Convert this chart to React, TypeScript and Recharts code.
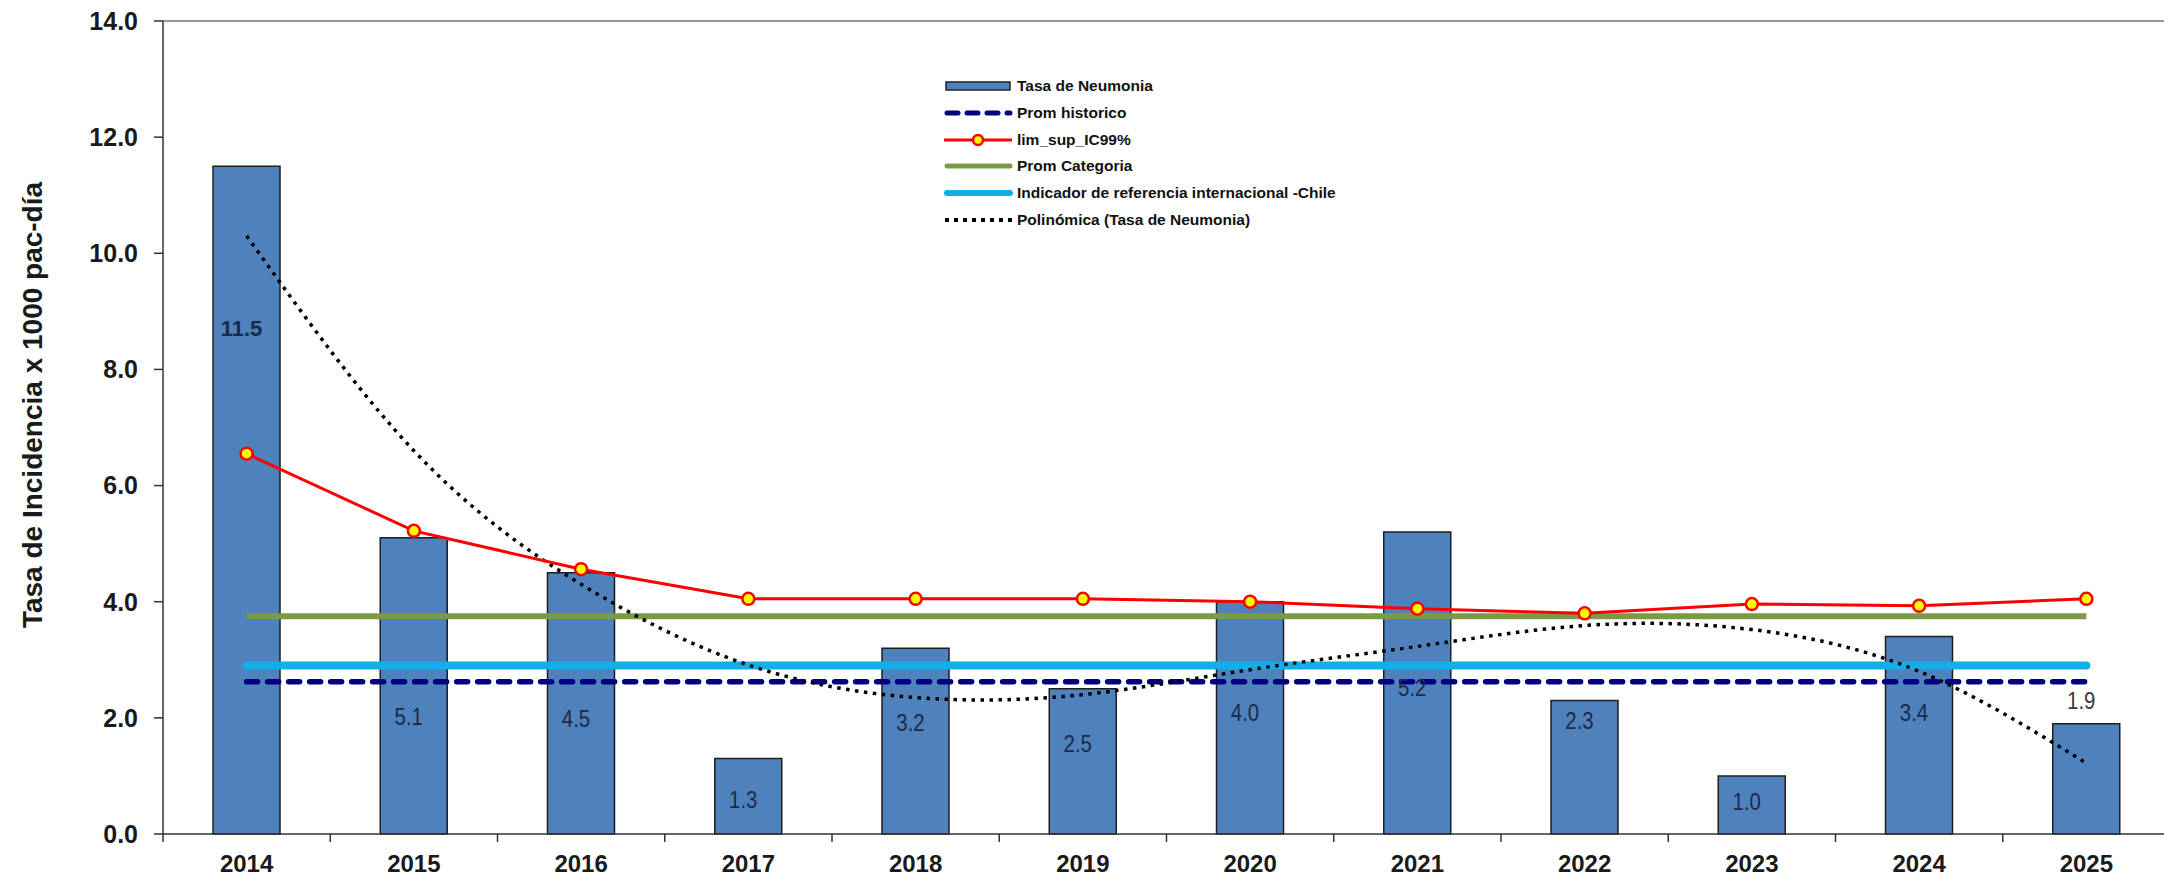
import React from "react";
import {
    Bar,
    ComposedChart,
    LabelList,
    Legend,
    Line,
    ReferenceLine,
    XAxis,
    YAxis,
} from "recharts";

// values
const years = ["2014", "2015", "2016", "2017", "2018", "2019", "2020", "2021", "2022", "2023", "2024", "2025"];
const tasaNeumonia = [11.5, 5.1, 4.5, 1.3, 3.2, 2.5, 4.0, 5.2, 2.3, 1.0, 3.4, 1.9];
const promHistorico = [2.62, 2.62, 2.62, 2.62, 2.62, 2.62, 2.62, 2.62, 2.62, 2.62, 2.62, 2.62];
const limSupIC99 = [6.55, 5.22, 4.56, 4.05, 4.05, 4.05, 4.0, 3.88, 3.8, 3.96, 3.93, 4.05];
const promCategoria = [3.75, 3.75, 3.75, 3.75, 3.75, 3.75, 3.75, 3.75, 3.75, 3.75, 3.75, 3.75];
const indicadorChile = [2.9, 2.9, 2.9, 2.9, 2.9, 2.9, 2.9, 2.9, 2.9, 2.9, 2.9, 2.9];
const polinomica = [10.3, 6.6, 4.3, 2.91, 2.35, 2.4, 2.83, 3.23, 3.59, 3.52, 2.8, 1.22];
// value (in axis units) at which each bar's data label sits in the reference
const labelAt = [8.7, 2.02, 1.99, 0.58, 1.92, 1.55, 2.08, 2.51, 1.95, 0.56, 2.09, 2.3];
const yTicks = [0, 2, 4, 6, 8, 10, 12, 14];

const data = years.map((year, i) => ({
    year,
    tasa: tasaNeumonia[i],
    prom: promHistorico[i],
    lim: limSupIC99[i],
    cat: promCategoria[i],
    ind: indicadorChile[i],
    poli: polinomica[i],
}));

const W = 2172;
const H = 877;
const MARGIN = { top: 21, right: 2, bottom: 0, left: 0 };
const Y_W = 163;
const X_H = 43;
const BAND = (W - MARGIN.left - MARGIN.right - Y_W) / years.length;
const AXIS_Y = H - MARGIN.bottom - X_H;

const BAR_BLUE = "#4F81BD";
const NAVY = "#000080";
const RED = "#FF0000";
const GREEN = "#7C9A46";
const SKY = "#12AEEA";
const AXIS = "#333333";
const ARIAL = "'Liberation Sans', Arial, sans-serif";

const XTick = ({ x, payload, index }: any) => {
    const left = x - BAND / 2;
    return (
        <g>
            <line x1={left} x2={left} y1={AXIS_Y} y2={AXIS_Y + 8} stroke={AXIS} strokeWidth={1.5} />
            {index === years.length - 1 && (
                <line x1={left + BAND} x2={left + BAND} y1={AXIS_Y} y2={AXIS_Y + 8} stroke={AXIS} strokeWidth={1.5} />
            )}
            <text x={x} y={AXIS_Y + 38} textAnchor="middle" fontFamily={ARIAL} fontWeight="bold" fontSize={24} fill="#1a1a1a">
                {payload.value}
            </text>
        </g>
    );
};

const BarLabel = ({ x, y, width, height, value, index }: any) => {
    const bottom = y + height;
    const ly = bottom - (labelAt[index] * height) / value;
    const cx = x + width / 2 - 5;
    const first = index === 0;
    return (
        <text
            transform={`translate(${cx}, ${ly}) scale(${first ? 1 : 0.85}, 1)`}
            x={0}
            y={0}
            textAnchor="middle"
            dominantBaseline="central"
            fontFamily={ARIAL}
            fontWeight={first ? "bold" : "normal"}
            fontSize={first ? 22 : 24}
            fill={index === years.length - 1 ? "#3a3a3a" : "#1c2a48"}
        >
            {Number(value).toFixed(1)}
        </text>
    );
};

const YTitle = () => (
    <text
        x={32}
        y={405}
        transform="rotate(-90, 32, 405)"
        textAnchor="middle"
        dominantBaseline="central"
        fontFamily={ARIAL}
        fontWeight="bold"
        fontSize={28}
        fill="#1a1a1a"
    >
        Tasa de Incidencia x 1000 pac-día
    </text>
);

const legendItems = [
    { name: "Tasa de Neumonia", kind: "bar" },
    { name: "Prom historico", kind: "dash" },
    { name: "lim_sup_IC99%", kind: "marker" },
    { name: "Prom Categoria", kind: "green" },
    { name: "Indicador de referencia internacional -Chile", kind: "sky" },
    { name: "Polinómica (Tasa de Neumonia)", kind: "dot" },
];

const LegendIcon = ({ kind }: { kind: string }) => (
    <svg width={72} height={16} style={{ display: "block" }}>
        {kind === "bar" && <rect x={4} y={4} width={64} height={8} fill={BAR_BLUE} stroke="#222" strokeWidth={1.5} />}
        {kind === "dash" && (
            <line x1={5} x2={68} y1={8} y2={8} stroke={NAVY} strokeWidth={5} strokeDasharray="11 9" strokeLinecap="round" />
        )}
        {kind === "marker" && (
            <g>
                <line x1={2} x2={70} y1={8} y2={8} stroke={RED} strokeWidth={3} />
                <circle cx={36} cy={8} r={5} fill="#FFFF00" stroke={RED} strokeWidth={2.5} />
            </g>
        )}
        {kind === "green" && <line x1={5} x2={68} y1={8} y2={8} stroke={GREEN} strokeWidth={5} strokeLinecap="round" />}
        {kind === "sky" && <line x1={5} x2={68} y1={8} y2={8} stroke={SKY} strokeWidth={6} strokeLinecap="round" />}
        {kind === "dot" && <line x1={3} x2={70} y1={8} y2={8} stroke="#000" strokeWidth={4} strokeDasharray="4 5" />}
    </svg>
);

const renderLegend = () => (
    <div style={{ fontFamily: ARIAL, fontWeight: "bold", fontSize: 15.5, color: "#111" }}>
        {legendItems.map((item) => (
            <div key={item.name} style={{ display: "flex", alignItems: "center", height: 26.7, whiteSpace: "nowrap" }}>
                <LegendIcon kind={item.kind} />
                <span style={{ marginLeft: 3 }}>{item.name}</span>
            </div>
        ))}
    </div>
);

export default function App() {
    return (
        <div style={{ position: "fixed", left: 0, top: 0, width: 2164, height: 877, overflow: "hidden", background: "#fff" }}>
            <ComposedChart width={W} height={H} data={data} margin={MARGIN}>
                <XAxis
                    dataKey="year"
                    height={X_H}
                    interval={0}
                    tickLine={false}
                    axisLine={{ stroke: AXIS, strokeWidth: 1.5 }}
                    tick={<XTick />}
                />
                <YAxis
                    width={Y_W}
                    domain={[0, 14]}
                    ticks={yTicks}
                    interval={0}
                    tickSize={9}
                    tickMargin={16}
                    tickFormatter={(v: number) => v.toFixed(1)}
                    tick={{ fontFamily: ARIAL, fontWeight: "bold", fontSize: 25, fill: "#1a1a1a" }}
                    tickLine={{ stroke: AXIS, strokeWidth: 1.5 }}
                    axisLine={{ stroke: AXIS, strokeWidth: 1.5 }}
                    label={<YTitle />}
                />
                <ReferenceLine y={14} stroke={AXIS} strokeWidth={1} />
                <Legend
                    layout="vertical"
                    align="center"
                    verticalAlign="middle"
                    content={renderLegend}
                    wrapperStyle={{ left: 942, top: 73, width: 520 }}
                />
                <Bar dataKey="tasa" name="Tasa de Neumonia" barSize={67} fill={BAR_BLUE} stroke="#1e1e1e" strokeWidth={1.5} isAnimationActive={false}>
                    <LabelList dataKey="tasa" content={<BarLabel />} />
                </Bar>
                <Line dataKey="ind" name="Indicador de referencia internacional -Chile" stroke={SKY} strokeWidth={8} dot={false} strokeLinecap="round" isAnimationActive={false} />
                <Line dataKey="prom" name="Prom historico" stroke={NAVY} strokeWidth={5.5} strokeDasharray="11 10" strokeLinecap="round" dot={false} isAnimationActive={false} />
                <Line dataKey="cat" name="Prom Categoria" stroke={GREEN} strokeWidth={6} dot={false} isAnimationActive={false} />
                <Line
                    dataKey="poli"
                    name="Polinómica (Tasa de Neumonia)"
                    type="natural"
                    stroke="#000"
                    strokeWidth={3.5}
                    strokeDasharray="3.5 5.5"
                    dot={false}
                    isAnimationActive={false}
                />
                <Line
                    dataKey="lim"
                    name="lim_sup_IC99%"
                    stroke={RED}
                    strokeWidth={3}
                    dot={{ r: 6, fill: "#FFFF00", stroke: RED, strokeWidth: 2.5 }}
                    isAnimationActive={false}
                />
            </ComposedChart>
        </div>
    );
}
